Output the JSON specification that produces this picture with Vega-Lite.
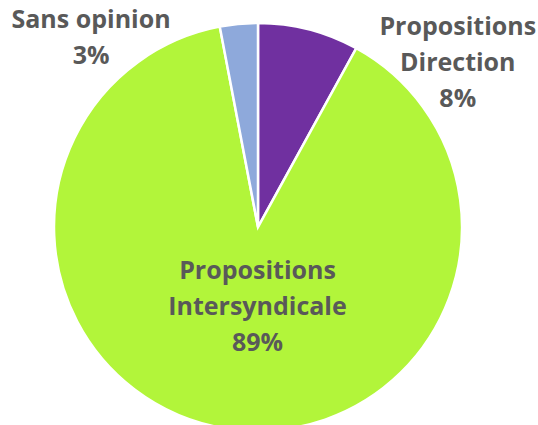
{
  "$schema": "https://vega.github.io/schema/vega-lite/v6.json",
  "autosize": {"type": "none"},
  "width": 516,
  "height": 454,
  "padding": {"left": 0, "top": 0, "right": 22, "bottom": 0},
  "background": "white",
  "config": {"view": {"stroke": null}},
  "data": {
    "values": [
      {"cat": "Propositions Direction", "value": 8, "label": "Propositions\nDirection\n8%"},
      {"cat": "Propositions Intersyndicale", "value": 89, "label": "Propositions\nIntersyndicale\n89%"},
      {"cat": "Sans opinion", "value": 3, "label": "Sans opinion\n3%"}
    ]
  },
  "encoding": {
    "theta": {"field": "value", "type": "quantitative", "stack": true},
    "color": {
      "field": "cat",
      "type": "nominal",
      "scale": {"domain": ["Propositions Direction", "Propositions Intersyndicale", "Sans opinion"], "range": ["#7030A0", "#B2F53A", "#8EA9DB"]},
      "legend": null
    }
  },
  "layer": [
    {"mark": {"type": "arc", "outerRadius": 204, "stroke": "white", "strokeWidth": 2.5}},
    {
      "mark": {"type": "text", "radius": 80, "dx": 12, "dy": -35, "font": "Open Sans", "fontWeight": "bold", "fontSize": 25, "lineBreak": "\n", "lineHeight": 36, "align": "center", "baseline": "middle"},
      "encoding": {"text": {"condition": {"test": "datum.cat === 'Propositions Intersyndicale'", "field": "label"}, "value": ""}, "color": {"value": "#595959"}}
    },
    {
      "mark": {"type": "text", "radius": 180, "dx": 155, "dy": -26, "font": "Open Sans", "fontWeight": "bold", "fontSize": 25, "lineBreak": "\n", "lineHeight": 36, "align": "center", "baseline": "middle"},
      "encoding": {"text": {"condition": {"test": "datum.cat === 'Propositions Direction'", "field": "label"}, "value": ""}, "color": {"value": "#595959"}}
    },
    {
      "mark": {"type": "text", "radius": 180, "dx": -150, "dy": -28, "font": "Open Sans", "fontWeight": "bold", "fontSize": 25, "lineBreak": "\n", "lineHeight": 36, "align": "center", "baseline": "middle"},
      "encoding": {"text": {"condition": {"test": "datum.cat === 'Sans opinion'", "field": "label"}, "value": ""}, "color": {"value": "#595959"}}
    }
  ]
}
